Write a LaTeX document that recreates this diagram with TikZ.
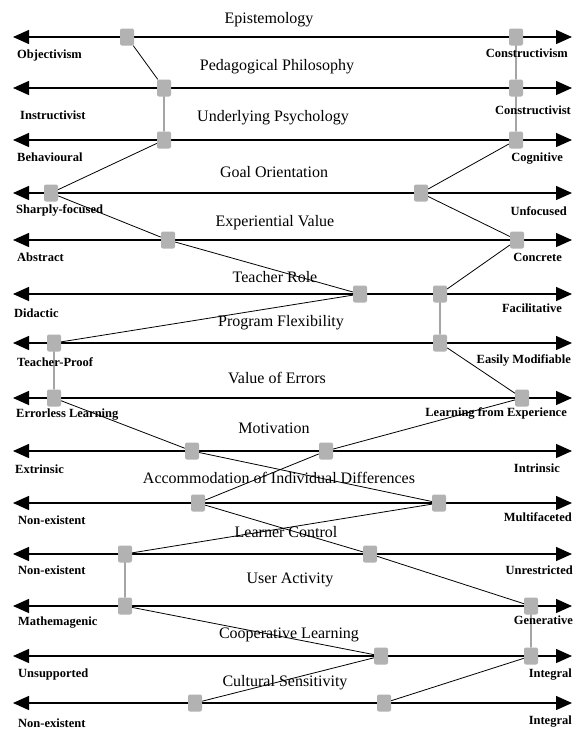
\documentclass[tikz,border=0pt]{standalone}
\usepackage{fontspec}
\setmainfont{Liberation Serif}
\usetikzlibrary{arrows.meta,patterns}
\begin{document}
\begin{tikzpicture}[x=1pt,y=-1pt,
 axis/.style={line width=1.4pt,{Triangle[length=16pt,width=14pt]}-{Triangle[length=16pt,width=14pt]}},
 link/.style={line width=0.8pt},
 marker/.style={draw=none,fill=gray!60,minimum width=14pt,minimum height=17pt,inner sep=0pt,rounded corners=2pt},
 ttl/.style={font=\fontsize{16}{18}\selectfont,inner sep=0pt},
 lbl/.style={font=\fontsize{12.5}{14}\selectfont\bfseries,inner sep=0pt}]
\useasboundingbox[fill=white] (0,0) rectangle (574,731);
% axes
\foreach \i/\y in {1/37,2/88,3/140,4/193,5/240,6/294,7/343,8/398,9/451,10/503,11/554,12/606,13/656,14/703}{
  \coordinate (l\i) at (13,\y);
  \coordinate (r\i) at (572,\y);
  \draw[axis] (l\i) -- (r\i);
}
% titles
\node[ttl] (t1) at (269,20) {Epistemology};
\node[ttl] (t2) at (277,67) {Pedagogical Philosophy};
\node[ttl] (t3) at (273,118) {Underlying Psychology};
\node[ttl] (t4) at (274,172) {Goal Orientation};
\node[ttl] (t5) at (275,223) {Experiential Value};
\node[ttl] (t6) at (275,277) {Teacher Role};
\node[ttl] (t7) at (281,323) {Program Flexibility};
\node[ttl] (t8) at (277,378) {Value of Errors};
\node[ttl] (t9) at (274,428) {Motivation};
\node[ttl] (t10) at (279,478) {Accommodation of Individual Differences};
\node[ttl] (t11) at (286,532) {Learner Control};
\node[ttl] (t12) at (290,580) {User Activity};
\node[ttl] (t13) at (289,635) {Cooperative Learning};
\node[ttl] (t14) at (285,683) {Cultural Sensitivity};
% left labels
\node[lbl,anchor=west] (ll1) at (17,55) {Objectivism};
\node[lbl,anchor=west] (ll2) at (20,115) {Instructivist};
\node[lbl,anchor=west] (ll3) at (17,157) {Behavioural};
\node[lbl,anchor=west] (ll4) at (16,210) {Sharply-focused};
\node[lbl,anchor=west] (ll5) at (17,257) {Abstract};
\node[lbl,anchor=west] (ll6) at (14,313) {Didactic};
\node[lbl,anchor=west] (ll7) at (17,362) {Teacher-Proof};
\node[lbl,anchor=west] (ll8) at (16,415) {Errorless Learning};
\node[lbl,anchor=west] (ll9) at (15,469) {Extrinsic};
\node[lbl,anchor=west] (ll10) at (18,520) {Non-existent};
\node[lbl,anchor=west] (ll11) at (18,570) {Non-existent};
\node[lbl,anchor=west] (ll12) at (18,623) {Mathemagenic};
\node[lbl,anchor=west] (ll13) at (18,674) {Unsupported};
\node[lbl,anchor=west] (ll14) at (18,723) {Non-existent};
% right labels
\node[lbl,anchor=east] (rl1) at (568,53) {Constructivism};
\node[lbl,anchor=east] (rl2) at (571,110) {Constructivist};
\node[lbl,anchor=east] (rl3) at (563,159) {Cognitive};
\node[lbl,anchor=east] (rl4) at (567,211) {Unfocused};
\node[lbl,anchor=east] (rl5) at (562,257) {Concrete};
\node[lbl,anchor=east] (rl6) at (562,308) {Facilitative};
\node[lbl,anchor=east] (rl7) at (571,360) {Easily Modifiable};
\node[lbl,anchor=east] (rl8) at (567,413) {Learning from Experience};
\node[lbl,anchor=east] (rl9) at (560,468) {Intrinsic};
\node[lbl,anchor=east] (rl10) at (572,517) {Multifaceted};
\node[lbl,anchor=east] (rl11) at (573,570) {Unrestricted};
\node[lbl,anchor=east] (rl12) at (573,620) {Generative};
\node[lbl,anchor=east] (rl13) at (572,675) {Integral};
\node[lbl,anchor=east] (rl14) at (572,722) {Integral};
% markers, path A
\node[marker] (A1) at (127,37) {};
\node[marker] (A2) at (164,88) {};
\node[marker] (A3) at (164,140) {};
\node[marker] (A4) at (51,193) {};
\node[marker] (A5) at (168,240) {};
\node[marker] (A6) at (360,294) {};
\node[marker] (A7) at (54,343) {};
\node[marker] (A8) at (54,398) {};
\node[marker] (A9) at (192,451) {};
\node[marker] (A10) at (439,503) {};
\node[marker] (A11) at (125,554) {};
\node[marker] (A12) at (125,606) {};
\node[marker] (A13) at (381,656) {};
\node[marker] (A14) at (195,703) {};
% markers, path B
\node[marker] (B1) at (516,37) {};
\node[marker] (B2) at (516,88) {};
\node[marker] (B3) at (516,140) {};
\node[marker] (B4) at (421,193) {};
\node[marker] (B5) at (517,240) {};
\node[marker] (B6) at (440,294) {};
\node[marker] (B7) at (440,343) {};
\node[marker] (B8) at (522,398) {};
\node[marker] (B9) at (326,451) {};
\node[marker] (B10) at (198,503) {};
\node[marker] (B11) at (370,554) {};
\node[marker] (B12) at (531,606) {};
\node[marker] (B13) at (531,656) {};
\node[marker] (B14) at (384,703) {};
% connectors
\draw[link] (A1) -- (A2) -- (A3) -- (A4) -- (A5) -- (A6) -- (A7) -- (A8) -- (A9) -- (A10) -- (A11) -- (A12) -- (A13) -- (A14);
\draw[link] (B1) -- (B2) -- (B3) -- (B4) -- (B5) -- (B6) -- (B7) -- (B8) -- (B9) -- (B10) -- (B11) -- (B12) -- (B13) -- (B14);
\end{tikzpicture}
\end{document}
